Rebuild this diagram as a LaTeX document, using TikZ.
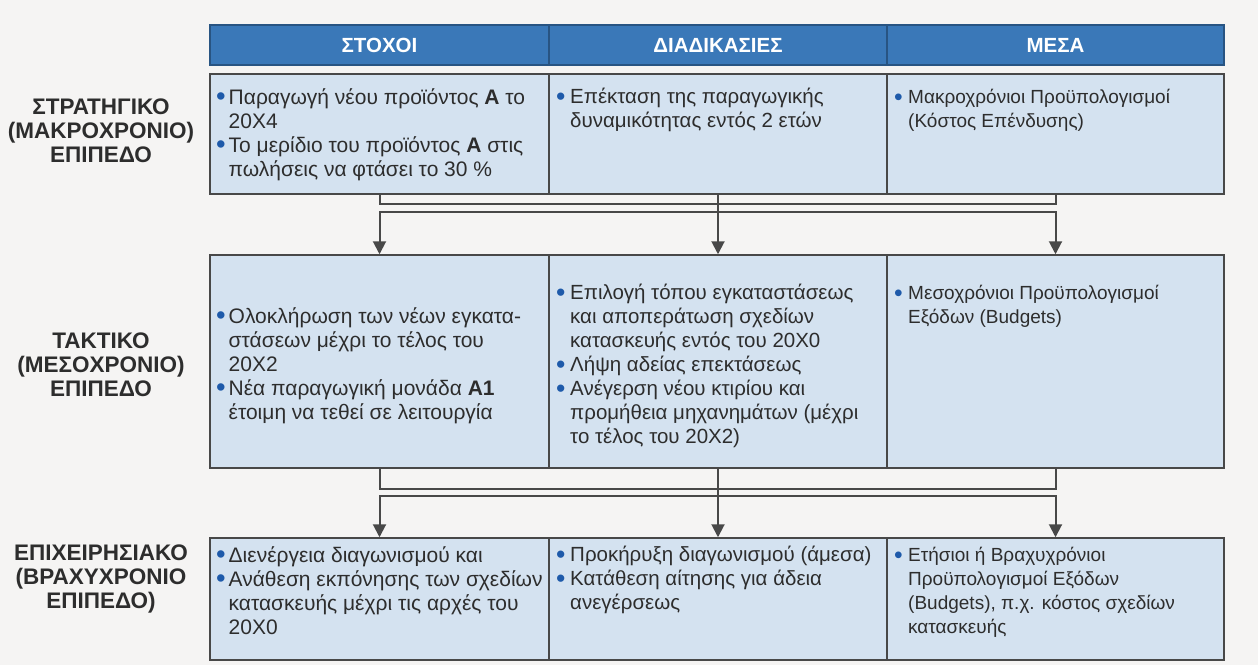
\documentclass[tikz,border=0pt]{standalone}
\usepackage{fontspec}
\setmainfont{Liberation Sans}
\usetikzlibrary{arrows.meta,positioning}

\definecolor{hdblue}{RGB}{58,120,184}
\definecolor{hdline}{RGB}{40,84,130}
\definecolor{cellblue}{RGB}{212,226,240}
\definecolor{lineg}{RGB}{72,72,72}
\definecolor{bulblue}{RGB}{30,90,170}
\definecolor{txtg}{RGB}{45,45,45}
\definecolor{paper}{RGB}{245,244,243}

\newlength{\bulw}
\newcommand{\bul}{\makebox[\bulw][l]{\smash{\raisebox{-1.5pt}{\scalebox{1.3}{\textcolor{bulblue}{\textbullet}}}}}}
\newcommand{\ind}{\hspace*{\bulw}}

\tikzset{
  head/.style={draw=hdline, line width=1.5pt, fill=hdblue, minimum height=40pt, text=white,
    font=\fontsize{20.5}{23}\selectfont\bfseries, inner sep=0},
  cell/.style={draw=lineg, line width=1.5pt, fill=cellblue, inner sep=0},
  celltext/.style={anchor=north west, inner sep=0, align=left, text=txtg},
  stoxtext/.style={celltext, font=\fontsize{21}{24}\selectfont\setlength{\bulw}{12.5pt}},
  diadtext/.style={celltext, font=\fontsize{20.5}{24}\selectfont\setlength{\bulw}{14pt}},
  mesatext/.style={celltext, font=\fontsize{19}{24}\selectfont\setlength{\bulw}{14pt}},
  level/.style={align=center, text=txtg, font=\fontsize{22.5}{24}\selectfont\bfseries},
  conn/.style={draw=lineg, line width=2pt},
  arr/.style={-{Triangle[width=13pt,length=13pt]}},
  arrs/.style={{Triangle[width=13pt,length=13pt]}-{Triangle[width=13pt,length=13pt]}}
}

\begin{document}
\begin{tikzpicture}[x=1pt,y=-1pt]
\useasboundingbox (0,0) rectangle (1258,665);
\fill[paper] (0,0) rectangle (1258,665);

% column heads
\node[head, minimum width=339pt] (hs) at (379.5,45) {ΣΤΟΧΟΙ};
\node[head, minimum width=338pt] (hd) at (718,45)   {ΔΙΑΔΙΚΑΣΙΕΣ};
\node[head, minimum width=337pt] (hm) at (1055.5,45) {ΜΕΣΑ};

% cells
\node[cell, minimum width=339pt, minimum height=120pt] (s1) at (379.5,134) {};
\node[cell, minimum width=338pt, minimum height=120pt] (d1) at (718,134)   {};
\node[cell, minimum width=337pt, minimum height=120pt] (m1) at (1055.5,134) {};
\node[cell, minimum width=339pt, minimum height=213pt] (s2) at (379.5,361.5) {};
\node[cell, minimum width=338pt, minimum height=213pt] (d2) at (718,361.5)   {};
\node[cell, minimum width=337pt, minimum height=213pt] (m2) at (1055.5,361.5) {};
\node[cell, minimum width=339pt, minimum height=122pt] (s3) at (379.5,599) {};
\node[cell, minimum width=338pt, minimum height=122pt] (d3) at (718,599)   {};
\node[cell, minimum width=337pt, minimum height=122pt] (m3) at (1055.5,599) {};

% levels
\node[level] (l1) at (101,131) {ΣΤΡΑΤΗΓΙΚΟ\\(ΜΑΚΡΟΧΡΟΝΙΟ)\\ΕΠΙΠΕΔΟ};
\node[level] (l2) at (101,365) {ΤΑΚΤΙΚΟ\\(ΜΕΣΟΧΡΟΝΙΟ)\\ΕΠΙΠΕΔΟ};
\node[level] (l3) at (101,579) {ΕΠΙΧΕΙΡΗΣΙΑΚΟ\\(ΒΡΑΧΥΧΡΟΝΙΟ\\ΕΠΙΠΕΔΟ)};

% texts
\node[stoxtext] (s1t) at (216,88) {\bul Παραγωγή νέου προϊόντος \textbf{Α} το\\ \ind 20X4\\
  \bul Το μερίδιο του προϊόντος \textbf{Α} στις\\ \ind πωλήσεις να φτάσει το 30 \%};
\node[diadtext] (d1t) at (556,88) {\bul Επέκταση της παραγωγικής\\ \ind δυναμικότητας εντός 2 ετών};
\node[mesatext] (m1t) at (894,89) {\bul Μακροχρόνιοι Προϋπολογισμοί\\ \ind (Κόστος Επένδυσης)};

\node[stoxtext] (s2t) at (216,307) {\bul Ολοκλήρωση των νέων εγκατα-\\ \ind στάσεων μέχρι το τέλος του\\ \ind 20X2\\
  \bul Νέα παραγωγική μονάδα \textbf{Α1}\\ \ind έτοιμη να τεθεί σε λειτουργία};
\node[diadtext] (d2t) at (556,284) {\bul Επιλογή τόπου εγκαταστάσεως\\ \ind και αποπεράτωση σχεδίων\\ \ind κατασκευής εντός του 20X0\\
  \bul Λήψη αδείας επεκτάσεως\\
  \bul Ανέγερση νέου κτιρίου και\\ \ind προμήθεια μηχανημάτων (μέχρι\\ \ind το τέλος του 20X2)};
\node[mesatext] (m2t) at (894,285) {\bul Μεσοχρόνιοι Προϋπολογισμοί\\ \ind Εξόδων (Budgets)};

\node[stoxtext] (s3t) at (216,546) {\bul Διενέργεια διαγωνισμού και\\
  \bul Ανάθεση εκπόνησης των σχεδίων\\ \ind κατασκευής μέχρι τις αρχές του\\ \ind 20X0};
\node[diadtext] (d3t) at (556,546) {\bul Προκήρυξη διαγωνισμού (άμεσα)\\
  \bul Κατάθεση αίτησης για άδεια\\ \ind ανεγέρσεως};
\node[mesatext] (m3t) at (894,547) {\bul Ετήσιοι ή Βραχυχρόνιοι\\ \ind Προϋπολογισμοί Εξόδων\\
  \ind (Budgets), π.χ. κόστος σχεδίων\\ \ind κατασκευής};

% connectors
\draw[conn] (s1.south) -- ++(0,9) -| (m1.south);
\draw[conn,arr] (d1.south) -- (d2.north);
\draw[conn,arrs] (s2.north) -- ++(0,-42) -| (m2.north);

\draw[conn] (s2.south) -- ++(0,20) -| (m2.south);
\draw[conn,arr] (d2.south) -- (d3.north);
\draw[conn,arrs] (s3.north) -- ++(0,-41) -| (m3.north);
\end{tikzpicture}
\end{document}
